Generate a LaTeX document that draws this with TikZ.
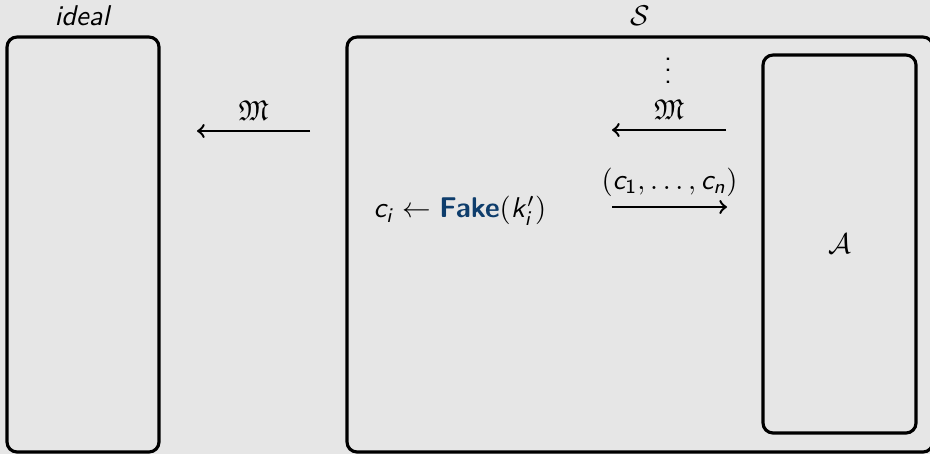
\documentclass[tikz,border=0pt]{standalone}
\usepackage{amssymb}
\usetikzlibrary{positioning}

\DeclareMathAlphabet{\mathsfsl}{OT1}{cmss}{m}{sl}
\newcommand{\sv}[1]{\mathsfsl{#1}}
\definecolor{bggray}{RGB}{230,230,230}
\definecolor{fakeblue}{RGB}{14,61,108}

\begin{document}
\begin{tikzpicture}[
  x=0.35pt, y=-0.35pt,
  font=\sffamily,
  >=to,
  party/.style={draw,line width=1.1pt,rounded corners=3.5pt,minimum height=145.25pt},
  msg/.style={->,line width=0.85pt}
]
  \useasboundingbox (0,0) rectangle (930,454);
  \fill[bggray] (0,0) rectangle (930,454);
  \clip (0,0) rectangle (930,454);

  % the three parties
  \node[party,minimum width=53.2pt,label={above:\textit{ideal}}] (ideal) at (83,244.5) {};
  \node[party,minimum width=205.1pt,label={above:$\mathcal{S}$}] (sim) at (640,244.5) {};
  \node[party,minimum width=53.55pt,minimum height=132.3pt] (adv) at (839.5,244) {$\mathcal{A}$};

  % messages
  \coordinate (idR) at (310,131);
  \coordinate (idL) at (197,131);
  \draw[msg] (idR) -- node[above] (idM) {$\mathfrak{M}$} (idL);

  \node (dots) at (668,62) {$\vdots$};
  \coordinate (inR) at (726,130);
  \coordinate (inL) at (612,130);
  \draw[msg] (inR) -- node[above] (inM) {$\mathfrak{M}$} (inL);

  \coordinate (outL) at (612,207);
  \coordinate (outR) at (727,207);
  \draw[msg] (outL) -- node[above] (clist) {$(\sv{c}_{\mathsf{1}},\ldots,\sv{c}_{\sv{n}})$} (outR);

  \node (fake) at (460,211) {$\sv{c}_{\sv{i}} \leftarrow \textcolor{fakeblue}{\textbf{Fake}}(\sv{k}'_{\sv{i}})$};
\end{tikzpicture}
\end{document}
